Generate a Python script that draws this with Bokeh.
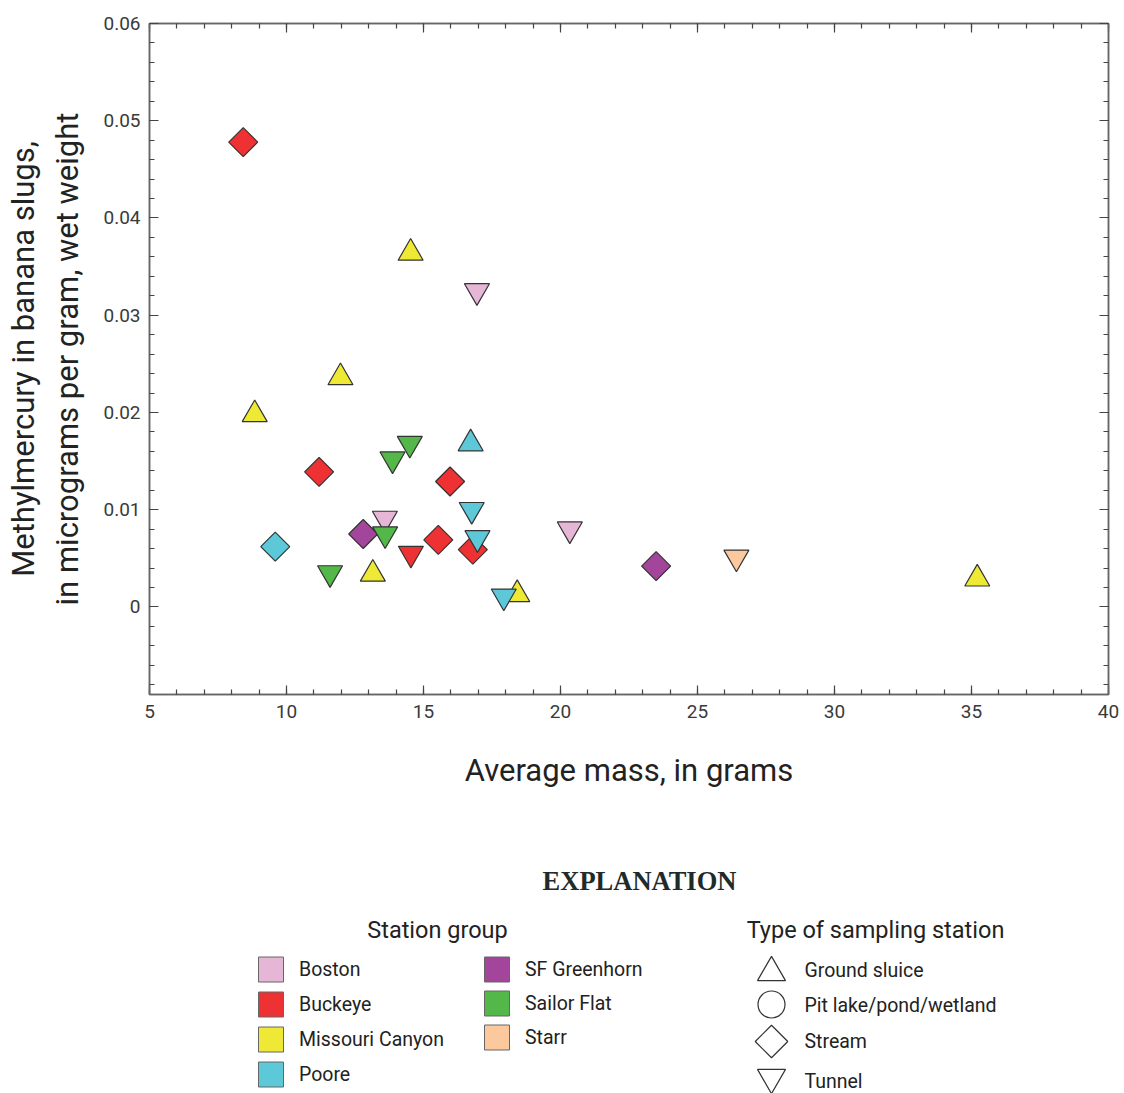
import math
from bokeh.plotting import figure
from bokeh.models import (ColumnDataSource, Range1d, LinearAxis, FixedTicker,
                          CustomJSTickFormatter)
from bokeh.layouts import column
from bokeh.core.properties import value
from bokeh.embed import file_html
from bokeh.resources import INLINE

# ---------------- data ----------------
groups = ["Boston", "Buckeye", "Missouri Canyon", "Poore",
          "SF Greenhorn", "Sailor Flat", "Starr"]
group_colors = ["#E6B6D6", "#EE3234", "#EEE935", "#5CC8D8",
                "#A3459B", "#53B849", "#FCC89D"]
station_types = ["Ground sluice", "Pit lake/pond/wetland", "Stream", "Tunnel"]

pt_group = ["Buckeye", "Missouri Canyon", "Boston", "Missouri Canyon", "Missouri Canyon",
            "Sailor Flat", "Sailor Flat", "Poore", "Buckeye", "Buckeye",
            "Poore", "Boston", "SF Greenhorn", "Sailor Flat", "Poore",
            "Buckeye", "Buckeye", "Poore", "Buckeye", "Sailor Flat",
            "Missouri Canyon", "Missouri Canyon", "Poore", "Boston", "SF Greenhorn",
            "Starr", "Missouri Canyon"]
pt_type = ["Stream", "Ground sluice", "Tunnel", "Ground sluice", "Ground sluice",
           "Tunnel", "Tunnel", "Ground sluice", "Stream", "Stream",
           "Tunnel", "Tunnel", "Stream", "Tunnel", "Stream",
           "Stream", "Stream", "Tunnel", "Tunnel", "Tunnel",
           "Ground sluice", "Ground sluice", "Tunnel", "Tunnel", "Stream",
           "Tunnel", "Ground sluice"]
avg_mass = [8.42, 14.53, 16.95, 11.97, 8.84,
            13.87, 14.50, 16.72, 11.19, 15.97,
            16.76, 13.59, 12.80, 13.60, 9.59,
            15.54, 16.80, 16.97, 14.54, 11.59,
            13.15, 18.42, 17.93, 20.34, 23.49,
            26.42, 35.21]
mehg = [0.0478, 0.0364, 0.0325, 0.0236, 0.0198,
        0.0152, 0.0168, 0.0168, 0.0139, 0.0129,
        0.0100, 0.0091, 0.0075, 0.0075, 0.0062,
        0.0069, 0.0059, 0.0071, 0.0055, 0.0035,
        0.0034, 0.0013, 0.0011, 0.0080, 0.0042,
        0.0051, 0.0029]

x_ticks = [5, 10, 15, 20, 25, 30, 35, 40]
y_ticks = [0, 0.01, 0.02, 0.03, 0.04, 0.05, 0.06]

# ---------------- styles ----------------
FONT = "Roboto"
marker_of = {"Ground sluice": "triangle", "Pit lake/pond/wetland": "circle",
             "Stream": "square", "Tunnel": "inverted_triangle"}
size_of = {"Ground sluice": 25, "Pit lake/pond/wetland": 24,
           "Stream": 20.5, "Tunnel": 25}
angle_of = {"Ground sluice": 0, "Pit lake/pond/wetland": 0,
            "Stream": math.pi / 4, "Tunnel": 0}
color_of = dict(zip(groups, group_colors))

src = ColumnDataSource(dict(
    mass=avg_mass, mehg=mehg,
    marker=[marker_of[t] for t in pt_type],
    size=[size_of[t] for t in pt_type],
    angle=[angle_of[t] for t in pt_type],
    color=[color_of[g] for g in pt_group],
))

W = 1124
p = figure(width=W, height=808, x_range=Range1d(5, 40),
           y_range=Range1d(-0.009, 0.06), output_backend="svg",
           toolbar_location=None, min_border_left=149, min_border_right=16,
           min_border_top=23, min_border_bottom=114)
p.xgrid.visible = False
p.ygrid.visible = False
p.outline_line_color = "#666666"
p.outline_line_width = 1.5

yfmt = CustomJSTickFormatter(code="return tick == 0 ? '0' : tick.toFixed(2);")
blank = CustomJSTickFormatter(code="return '';")
xt = FixedTicker(ticks=x_ticks, minor_ticks=list(range(5, 41)))
yt = FixedTicker(ticks=y_ticks, minor_ticks=[round(-0.008 + 0.002 * i, 3) for i in range(35)])

def style_axis(ax, labels=True):
    ax.axis_line_color = "#666666"
    ax.axis_line_width = 1.5
    ax.major_tick_in = 9
    ax.major_tick_out = 0
    ax.minor_tick_in = 5
    ax.minor_tick_out = 0
    ax.major_tick_line_color = "#444444"
    ax.minor_tick_line_color = "#444444"
    ax.major_tick_line_width = 1.2
    ax.minor_tick_line_width = 1.2
    if labels:
        ax.major_label_text_font = FONT
        ax.major_label_text_font_size = "19px"
        ax.major_label_text_color = "#3a3a3a"
        ax.axis_label_text_font = FONT
        ax.axis_label_text_font_size = "31px"
        ax.axis_label_text_font_style = "normal"
        ax.axis_label_text_color = "#222222"
    else:
        ax.formatter = blank
        ax.major_label_standoff = 0

p.xaxis.ticker = xt
p.yaxis.ticker = yt
p.yaxis.formatter = yfmt
style_axis(p.xaxis[0])
style_axis(p.yaxis[0])
p.xaxis.axis_label = "Average mass, in grams"
p.yaxis.axis_label = "Methylmercury in banana slugs,\nin micrograms per gram, wet weight"
p.xaxis.major_label_standoff = 10
p.yaxis.major_label_standoff = 9
p.xaxis.axis_label_standoff = 31
p.yaxis.axis_label_standoff = 14

ra = LinearAxis(ticker=yt)
ta = LinearAxis(ticker=xt)
style_axis(ra, labels=False)
style_axis(ta, labels=False)
p.add_layout(ra, "right")
p.add_layout(ta, "above")

p.scatter(x="mass", y="mehg", source=src, marker="marker", size="size",
          angle="angle", fill_color="color", line_color="#333333", line_width=1.2)

# ---------------- explanation (legend) ----------------
# legend panel coordinates are page pixels (x from left edge, y from top edge)
LTOP, LBOT = 808, 1093
lg = figure(width=W, height=LBOT - LTOP, x_range=Range1d(149, 1108),
            y_range=Range1d(LBOT, LTOP), output_backend="svg", toolbar_location=None,
            min_border_left=149, min_border_right=16, min_border_top=0,
            min_border_bottom=0, x_axis_type=None, y_axis_type=None)
lg.xgrid.visible = False
lg.ygrid.visible = False
lg.outline_line_color = None

lg.text(x=[639], y=[880], text=["EXPLANATION"], text_font=value("Liberation Serif"),
        text_font_style="bold", text_font_size="26.5px", text_align="center",
        text_baseline="middle", text_color="#1f2b2b")
lg.text(x=[437, 875], y=[929, 929], text=["Station group", "Type of sampling station"],
        text_font=value(FONT), text_font_size="23.5px", text_align="center",
        text_baseline="middle", text_color="#222222")

col_x = [270.5] * 4 + [496.5] * 3
row_y = [969, 1004, 1039, 1074, 969, 1003, 1037]
lg.rect(x=col_x, y=row_y, width=25, height=25, fill_color=group_colors,
        line_color="#666666", line_width=1)
lg.text(x=[c + 28 for c in col_x], y=row_y, text=groups, text_font=value(FONT),
        text_font_size="19.5px", text_align="left", text_baseline="middle",
        text_color="#222222")

sym_y = [972, 1004, 1041, 1077]
lg.scatter(x=[771] * 4, y=sym_y, marker=[marker_of[t] for t in station_types],
           size=[28, 27, 23, 28], angle=[angle_of[t] for t in station_types],
           fill_color="white", line_color="#333333", line_width=1.2)
lg.text(x=[804] * 4, y=[970, 1005, 1041, 1081], text=station_types, text_font=value(FONT),
        text_font_size="19.5px", text_align="left", text_baseline="middle",
        text_color="#222222")

layout = column(p, lg)
open("out.html", "w").write(file_html(layout, INLINE))
